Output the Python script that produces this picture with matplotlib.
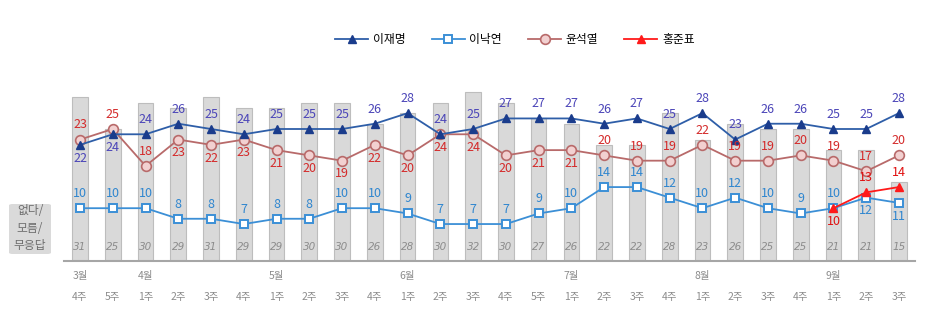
import numpy as np
import matplotlib.pyplot as plt
from matplotlib.patches import FancyBboxPatch

plt.rcParams['font.family'] = ['Noto Sans CJK KR', 'DejaVu Sans']

# data
months = ['3월', '', '4월', '', '', '', '5월', '', '', '', '6월', '', '', '', '', '7월',
          '', '', '', '8월', '', '', '', '9월', '', '']
weeks = ['4주', '5주', '1주', '2주', '3주', '4주', '1주', '2주', '3주', '4주', '1주', '2주',
         '3주', '4주', '5주', '1주', '2주', '3주', '4주', '1주', '2주', '3주', '4주', '1주',
         '2주', '3주']
none_vals = [31, 25, 30, 29, 31, 29, 29, 30, 30, 26, 28, 30, 32, 30, 27, 26, 22, 22, 28,
             23, 26, 25, 25, 21, 21, 15]
lee_jm = [22, 24, 24, 26, 25, 24, 25, 25, 25, 26, 28, 24, 25, 27, 27, 27, 26, 27, 25, 28,
          23, 26, 26, 25, 25, 28]
lee_ny = [10, 10, 10, 8, 8, 7, 8, 8, 10, 10, 9, 7, 7, 7, 9, 10, 14, 14, 12, 10, 12, 10, 9,
          10, 12, 11]
yoon = [23, 25, 18, 23, 22, 23, 21, 20, 19, 22, 20, 24, 24, 20, 21, 21, 20, 19, 19, 22,
        19, 19, 20, 19, 17, 20]
hong_x = [23, 24, 25]
hong = [10, 13, 14]

# label placement: 1 above, -1 below
jm_pos = [-1, -1] + [1] * 24
ny_pos = [1] * 24 + [-1, -1]
yoon_pos = [1, 1, 1, -1] + [-1] * 12 + [1] * 10
hong_pos = [-1, 1, 1]

x = np.arange(len(weeks))

fig = plt.figure(figsize=(9.33, 3.32), dpi=100)
ax = fig.add_axes([64 / 933, 71 / 332, 851 / 933, 191 / 332])

ax.bar(x, none_vals, width=0.48, color='#d9d9d9', edgecolor='#bdbdbd', linewidth=0.8, zorder=1)
for xi, v in zip(x, none_vals):
    ax.text(xi, 2.6, str(v), ha='center', va='center', fontsize=7.5, style='italic',
            family='DejaVu Sans', color='#8c8c8c', zorder=5)

c_jm_line, c_jm_mk, c_jm_txt = '#2e5ea8', '#1a3c8c', '#4b45b8'
c_ny_line, c_ny_txt = '#3b8fd6', '#2f86cf'
c_yo_line, c_yo_mk, c_yo_txt = '#b86a6a', '#f2d0d0', '#d42a2a'
c_ho = '#ff1a1a'

ax.plot(x, lee_jm, color=c_jm_line, lw=1.3, marker='^', ms=5.5, mfc=c_jm_mk, mec=c_jm_mk,
        zorder=4, label='이재명')
ax.plot(x, lee_ny, color=c_ny_line, lw=1.3, marker='s', ms=5.8, mfc='white', mec=c_ny_line,
        mew=1.4, zorder=3, label='이낙연')
ax.plot(x, yoon, color=c_yo_line, lw=1.3, marker='o', ms=7, mfc=c_yo_mk, mec=c_yo_line,
        mew=1.2, zorder=3, label='윤석열')
ax.plot(hong_x, hong, color=c_ho, lw=1.3, marker='^', ms=5.5, mfc=c_ho, mec=c_ho,
        zorder=4, label='홍준표')


def labels(xs, ys, pos, color):
    for xi, yi, p in zip(xs, ys, pos):
        off = 10.5 if p > 0 else -9.5
        ax.annotate(str(yi), (xi, yi), xytext=(0, off), textcoords='offset points',
                    ha='center', va='center', fontsize=9, color=color, zorder=6)


labels(x, lee_jm, jm_pos, c_jm_txt)
labels(x, lee_ny, ny_pos, c_ny_txt)
labels(x, yoon, yoon_pos, c_yo_txt)
labels(hong_x, hong, hong_pos, '#e01010')

ax.set_xlim(-0.49, 25.49)
ax.set_ylim(0, 191 / 5.28)
for s in ['top', 'right', 'left']:
    ax.spines[s].set_visible(False)
ax.spines['bottom'].set_color('#a6a6a6')
ax.spines['bottom'].set_linewidth(1.5)
ax.set_yticks([])
ax.set_xticks(x)
ax.set_xticklabels([m + '\n' + w if m else '\n' + w for m, w in zip(months, weeks)],
                   fontsize=7.5, color='#8c8c8c', linespacing=2.4)
ax.tick_params(axis='x', length=0, pad=7)

# side label box
fig.patches.append(FancyBboxPatch((9 / 933, 1 - 254 / 332), 42 / 933, 50 / 332,
                                  boxstyle='round,pad=0,rounding_size=0.004',
                                  transform=fig.transFigure, fc='#dadada', ec='none'))
for yy, t in zip([211, 228, 245], ['없다/', '모름/', '무응답']):
    fig.text(30 / 933, 1 - yy / 332, t, ha='center', va='center', fontsize=8.5,
             color='#6e6e6e')

fig.legend(loc='center', bbox_to_anchor=(0.552, 1 - 40 / 332), ncol=4, frameon=False,
           fontsize=8.5, handlelength=2.8, columnspacing=2.2, handletextpad=0.4)

fig.savefig('out.png', dpi=100)
